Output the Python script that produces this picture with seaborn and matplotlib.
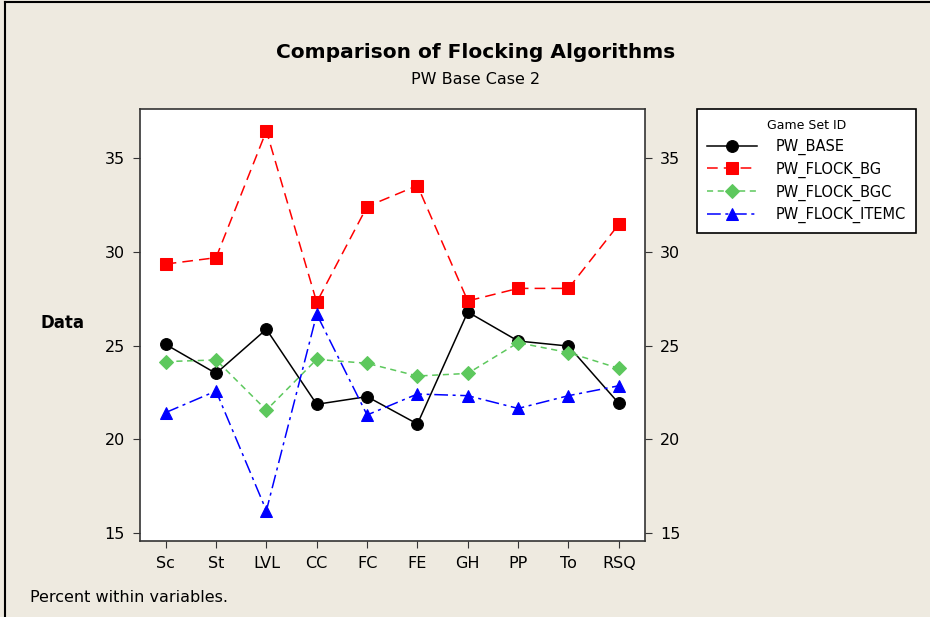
import matplotlib
matplotlib.use("Agg")
import matplotlib.pyplot as plt
import matplotlib.lines as mlines
import pandas as pd
import seaborn as sns

categories = ['Sc', 'St', 'LVL', 'CC', 'FC', 'FE', 'GH', 'PP', 'To', 'RSQ']
pw_base = [25.06, 23.51, 25.87, 21.86, 22.27, 20.81, 26.79, 25.24, 24.97, 21.91]
pw_flock_bg = [29.35, 29.69, 36.46, 27.31, 32.42, 33.54, 27.38, 28.05, 28.05, 31.47]
pw_flock_bgc = [24.14, 24.23, 21.55, 24.26, 24.05, 23.37, 23.51, 25.15, 24.62, 23.78]
pw_flock_itemc = [21.42, 22.57, 16.18, 26.67, 21.29, 22.41, 22.32, 21.64, 22.32, 22.85]
yticks = [15, 20, 25, 30, 35]

series = {
    'PW_BASE': pw_base,
    'PW_FLOCK_BG': pw_flock_bg,
    'PW_FLOCK_BGC': pw_flock_bgc,
    'PW_FLOCK_ITEMC': pw_flock_itemc,
}
styles = {
    'PW_BASE': dict(color='black', marker='o', linestyle='-'),
    'PW_FLOCK_BG': dict(color='#FF0000', marker='s', linestyle=(0, (7, 4))),
    'PW_FLOCK_BGC': dict(color='#5DC85D', marker='D', linestyle=(0, (4, 3))),
    'PW_FLOCK_ITEMC': dict(color='#0000FF', marker='^', linestyle=(0, (9, 3, 2, 3))),
}

bg = '#EEEAE0'
fig = plt.figure(figsize=(9.3, 6.17), dpi=100, facecolor=bg)
ax = fig.add_axes([140/930, 1 - 541/617, 505/930, 432/617])
ax.set_facecolor('white')

for name, vals in series.items():
    df = pd.DataFrame({'x': range(len(categories)), 'y': vals})
    st = styles[name]
    ms = 8.5 if st['marker'] != 'D' else 7.5
    sns.lineplot(data=df, x='x', y='y', ax=ax, color=st['color'], marker=st['marker'],
                 linestyle=st['linestyle'], linewidth=1.1, markersize=ms,
                 markeredgecolor=st['color'], label=name)

ax.set_xlim(-0.51, 9.52)
ax.set_ylim(14.56, 37.63)
ax.set_xticks(range(len(categories)))
ax.set_xticklabels(categories)
ax.set_yticks(yticks)
ax.tick_params(axis='both', labelsize=11.5, length=5, direction='out', color='#333333')
ax.tick_params(axis='y', right=True, labelright=True, pad=6)
ax.tick_params(axis='x', pad=6)
ax.set_xlabel('')
ax.set_ylabel('')
for s in ax.spines.values():
    s.set_color('#333333')
    s.set_linewidth(1.2)

fig.text(62/930, 1 - 323/617, 'Data', fontsize=12, fontweight='bold', ha='center', va='center')
fig.text(476/930, 1 - 52/617, 'Comparison of Flocking Algorithms', fontsize=14.5,
         fontweight='bold', ha='center', va='center')
fig.text(476/930, 1 - 80/617, 'PW Base Case 2', fontsize=11.5, ha='center', va='center')
fig.text(30/930, 1 - 598/617, 'Percent within variables.', fontsize=11.5, ha='left', va='center')

leg = ax.legend(title='Game Set ID', loc='upper left', bbox_to_anchor=(697/930, 1 - 109/617),
                bbox_transform=fig.transFigure, borderaxespad=0, fontsize=10.5, title_fontsize=9,
                frameon=True, fancybox=False, edgecolor='black', framealpha=1,
                handlelength=3.4, borderpad=0.7, labelspacing=0.45, handletextpad=1.3)
leg.get_frame().set_linewidth(1.2)

# outer frame lines (top and left only)
x0, y0 = 5/930, 1 - 2/617
fig.add_artist(mlines.Line2D([x0, 1.0], [y0, y0], transform=fig.transFigure, color='black', linewidth=1.5))
fig.add_artist(mlines.Line2D([x0, x0], [0, y0], transform=fig.transFigure, color='black', linewidth=1.5))

fig.savefig('out.png', dpi=100, facecolor=bg)
